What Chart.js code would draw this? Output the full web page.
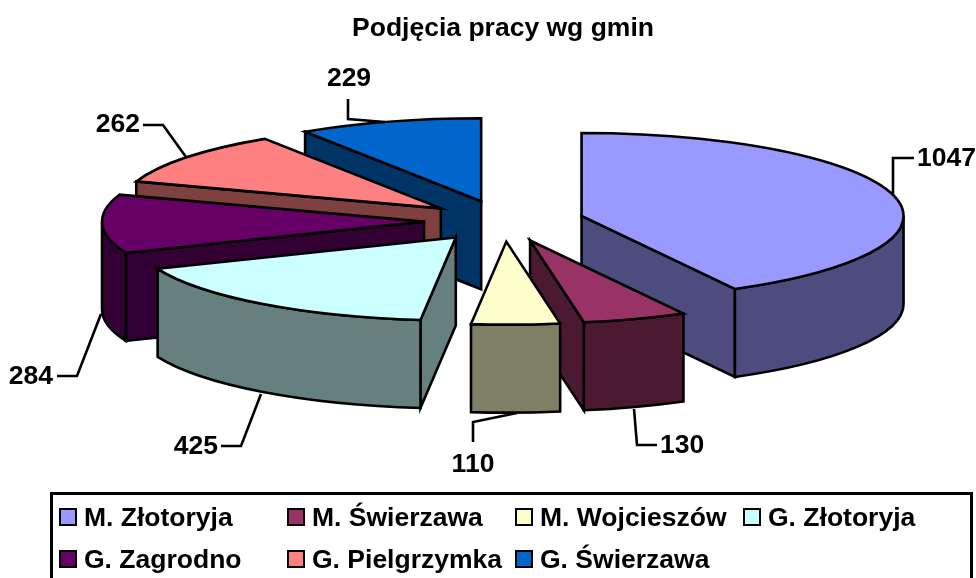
<!DOCTYPE html>
<html lang="pl">
<head>
<meta charset="utf-8">
<title>Podjęcia pracy wg gmin</title>
<script src="https://cdn.jsdelivr.net/npm/chart.js@4/dist/chart.umd.js"></script>
<style>
html, body { margin: 0; padding: 0; background: #fff; overflow: hidden; }
#wrap { position: relative; width: 976px; height: 578px; overflow: hidden; }
#chart { position: absolute; left: 0; top: 0; }
#legend {
    position: absolute; left: 50px; top: 492px; width: 923px; height: 110px;
    border: 3px solid #000; box-sizing: border-box; padding: 1px 0 0 6px;
    display: grid; grid-template-columns: 228px 228px 228px 200px; grid-auto-rows: 42px;
    font: bold 26.5px "Liberation Sans", Arial, sans-serif; color: #000;
}
#legend div { display: flex; align-items: center; white-space: nowrap; }
#legend i { display: block; width: 18px; height: 18px; box-sizing: border-box; border: 2px solid #000; margin-right: 7px; }
</style>
</head>
<body>
<div id="wrap">
  <canvas id="chart" width="976" height="578"></canvas>
  <div id="legend"></div>
</div>
<script>
const categories = ['M. Złotoryja', 'M. Świerzawa', 'M. Wojcieszów', 'G. Złotoryja', 'G. Zagrodno', 'G. Pielgrzymka', 'G. Świerzawa'];
const values = [1047, 130, 110, 425, 284, 262, 229];
const topColors = ['#9999FF', '#993366', '#FFFFCC', '#CCFFFF', '#660066', '#FF8080', '#0066CC'];
const sideColors = ['#4C4C7F', '#4C1933', '#7F7F66', '#667F7F', '#330033', '#7F4040', '#003366'];

// ===== 3D LOOK =====
const PIE_X = 504, PIE_Y = 221;
const RADIUS = 322, SQUASH = 83 / 322, DEPTH = 88, EXPLODE = 80;

// leader lines and where each value label sits, same order as categories
const leaders = [
    { pts: [[893,195],[893,158],[914,158]], x: 917, y: 159, align: 'left' },
    { pts: [[634,409],[637,445],[657,445]], x: 660, y: 446, align: 'left' },
    { pts: [[517,413],[473,422],[473,442]], x: 473, y: 465, align: 'center' },
    { pts: [[261,394],[241,446],[221,446]], x: 218, y: 447, align: 'right' },
    { pts: [[101,314],[77,376],[57,376]], x: 53, y: 377, align: 'right' },
    { pts: [[186,157],[163,125],[143,125]], x: 140, y: 125, align: 'right' },
    { pts: [[385,122],[348,119],[348,99]], x: 349, y: 79, align: 'center' }
];

function apexOf(chart, el) {
    const a = chart.chartArea;
    return {
        x: el.x - (a.left + a.right) / 2 + PIE_X,
        y: PIE_Y + (el.y - (a.top + a.bottom) / 2) * SQUASH
    };
}

function rim(p, angle) {
    return { x: p.x + RADIUS * Math.cos(angle), y: p.y + RADIUS * SQUASH * Math.sin(angle) };
}

function drawRadialWall(ctx, p, angle, color) {
    const r = rim(p, angle);
    ctx.beginPath();
    ctx.moveTo(p.x, p.y);
    ctx.lineTo(r.x, r.y);
    ctx.lineTo(r.x, r.y + DEPTH);
    ctx.lineTo(p.x, p.y + DEPTH);
    ctx.closePath();
    ctx.fillStyle = color;
    ctx.fill();
    ctx.stroke();
}

function drawOuterWall(ctx, p, from, to, color) {
    ctx.beginPath();
    ctx.ellipse(p.x, p.y, RADIUS, RADIUS * SQUASH, 0, from, to);
    ctx.ellipse(p.x, p.y + DEPTH, RADIUS, RADIUS * SQUASH, 0, to, from, true);
    ctx.closePath();
    ctx.fillStyle = color;
    ctx.fill();
    ctx.stroke();
}

const pie3d = {
    id: 'pie3d',
    // pull the slices apart, the arcs then draw from these centres
    afterDatasetsUpdate(chart) {
        chart.getDatasetMeta(0).data.forEach(el => {
            const mid = (el.startAngle + el.endAngle) / 2;
            el.x += Math.cos(mid) * EXPLODE;
            el.y += Math.sin(mid) * EXPLODE;
        });
    },
    beforeDatasetsDraw(chart) {
        const ctx = chart.ctx;
        const a = chart.chartArea;
        const arcs = chart.getDatasetMeta(0).data;
        const order = arcs.map((el, i) => ({ el, i, p: apexOf(chart, el) })).sort((s, t) => s.p.y - t.p.y);

        ctx.save();
        ctx.strokeStyle = '#000';
        ctx.lineWidth = 2.6;
        ctx.lineJoin = 'miter';
        order.forEach(({ el, i, p }) => {
            if (-Math.cos(el.startAngle) > 0.001) drawRadialWall(ctx, p, el.startAngle, sideColors[i]);
            if (Math.cos(el.endAngle) > 0.001) drawRadialWall(ctx, p, el.endAngle, sideColors[i]);
            const from = Math.max(el.startAngle, 0), to = Math.min(el.endAngle, Math.PI);
            if (to > from) drawOuterWall(ctx, p, from, to, sideColors[i]);
        });
        ctx.restore();

        // flatten the tops, restored again in afterDatasetsDraw
        ctx.save();
        ctx.translate(PIE_X - (a.left + a.right) / 2, PIE_Y);
        ctx.scale(1, SQUASH);
        ctx.translate(0, -(a.top + a.bottom) / 2);
    },
    afterDatasetsDraw(chart) {
        const ctx = chart.ctx;
        ctx.restore();

        ctx.save();
        ctx.strokeStyle = '#000';
        ctx.lineWidth = 2.6;
        chart.getDatasetMeta(0).data.forEach(el => {
            const p = apexOf(chart, el);
            ctx.beginPath();
            ctx.moveTo(p.x, p.y);
            ctx.ellipse(p.x, p.y, RADIUS, RADIUS * SQUASH, 0, el.startAngle, el.endAngle);
            ctx.closePath();
            ctx.stroke();
        });

        ctx.fillStyle = '#000';
        ctx.font = 'bold 26.5px "Liberation Sans", Arial, sans-serif';
        ctx.textBaseline = 'middle';
        leaders.forEach((l, i) => {
            ctx.beginPath();
            l.pts.forEach((pt, n) => n ? ctx.lineTo(pt[0], pt[1]) : ctx.moveTo(pt[0], pt[1]));
            ctx.stroke();
            ctx.textAlign = l.align;
            ctx.fillText(String(values[i]), l.x, l.y);
        });
        ctx.restore();
    }
};

const chart = new Chart(document.getElementById('chart'), {
    type: 'pie',
    data: {
        labels: categories,
        datasets: [{
            data: values,
            backgroundColor: topColors,
            borderWidth: 0,
            radius: RADIUS,
            clip: false
        }]
    },
    options: {
        responsive: false,
        animation: false,
        layout: { padding: { left: 30 } },
        plugins: {
            legend: { display: false },
            tooltip: { enabled: false },
            title: {
                display: true,
                text: 'Podjęcia pracy wg gmin',
                color: '#000',
                font: { family: '"Liberation Sans", Arial, sans-serif', size: 26.5, weight: 'bold' },
                padding: { top: 13, bottom: 10 }
            }
        }
    },
    plugins: [pie3d]
});

// ===== LEGEND =====
document.getElementById('legend').innerHTML = categories.map((c, i) =>
    `<div><i style="background:${topColors[i]}"></i>${c}</div>`).join('');
</script>
</body>
</html>
